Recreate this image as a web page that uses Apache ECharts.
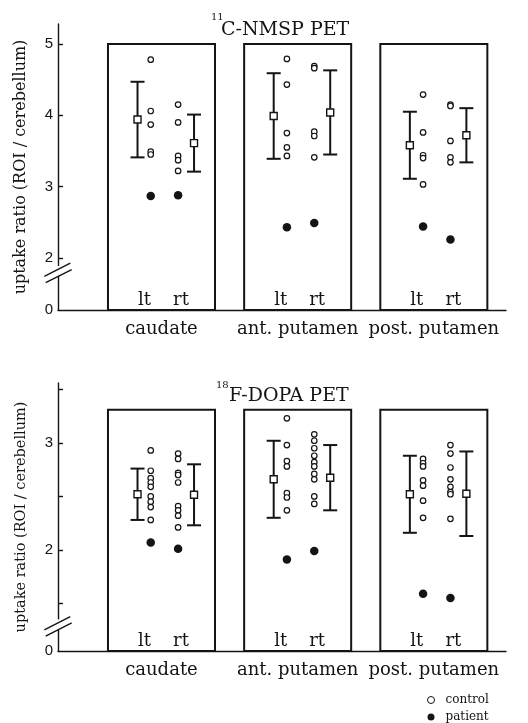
<!DOCTYPE html>
<html><head><meta charset="utf-8">
<script src="https://cdn.jsdelivr.net/npm/echarts@6/dist/echarts.min.js"></script>
<style>html,body{margin:0;padding:0;background:#fff}#c{width:528px;height:723px}</style>
</head><body><div id="c"></div>
<script>
// ---- data ----
const regions = ['caudate', 'ant. putamen', 'post. putamen'];
const sides = ['lt', 'rt'];

// 11C-NMSP PET
const nmspCtlLt = [[4.78, 4.06, 3.87, 3.49, 3.45], [4.79, 4.43, 3.75, 3.55, 3.43], [4.29, 3.76, 3.44, 3.40, 3.03]];
const nmspCtlRt = [[4.15, 3.90, 3.43, 3.37, 3.22], [4.69, 4.66, 3.77, 3.71, 3.41], [4.15, 4.13, 3.64, 3.41, 3.34]];
const nmspPatLt = [2.87, 2.43, 2.44];
const nmspPatRt = [2.88, 2.49, 2.26];
const nmspMeanLt = [3.94, 3.99, 3.58];
const nmspSdLt = [0.53, 0.60, 0.47];
const nmspMeanRt = [3.61, 4.04, 3.72];
const nmspSdRt = [0.40, 0.59, 0.38];
const nmspTicks = [2, 3, 4, 5];
const nmspLabels = [2, 3, 4, 5];

// 18F-DOPA PET
const dopaCtlLt = [[2.93, 2.74, 2.67, 2.63, 2.59, 2.50, 2.45, 2.40, 2.28], [3.23, 2.98, 2.83, 2.78, 2.53, 2.49, 2.37], [2.85, 2.81, 2.78, 2.65, 2.60, 2.46, 2.30]];
const dopaCtlRt = [[2.90, 2.85, 2.72, 2.70, 2.63, 2.41, 2.37, 2.32, 2.21], [3.08, 3.02, 2.95, 2.88, 2.82, 2.78, 2.71, 2.66, 2.50, 2.43], [2.98, 2.90, 2.77, 2.66, 2.59, 2.54, 2.52, 2.29]];
const dopaPatLt = [2.07, 1.91, 1.59];
const dopaPatRt = [2.01, 1.99, 1.55];
const dopaMeanLt = [2.52, 2.66, 2.52];
const dopaSdLt = [0.24, 0.36, 0.36];
const dopaMeanRt = [2.515, 2.675, 2.525];
const dopaSdRt = [0.285, 0.305, 0.395];
const dopaTicks = [1.5, 2, 2.5, 3, 3.5];
const dopaLabels = [2, 3];

// ---- layout constants ----
const X_MIN = -0.76, X_MAX = 2.53;
const BOX_HALF = 0.393;
const OFF_BAR_LT = -0.176, OFF_DOT_LT = -0.079, OFF_DOT_RT = 0.122, OFF_BAR_RT = 0.239;
const OFF_TXT_LT = -0.125, OFF_TXT_RT = 0.143;
const INK = '#141414';
const SERIF = 'DejaVu Serif';

const panels = [
  { top: 24, height: 286, yMin: 1.27, yMax: 5.28, boxTop: 5.0, brk: 1.79, nameSize: 16,
    ticks: nmspTicks, labels: nmspLabels,
    ctlLt: nmspCtlLt, ctlRt: nmspCtlRt, patLt: nmspPatLt, patRt: nmspPatRt,
    meanLt: nmspMeanLt, sdLt: nmspSdLt, meanRt: nmspMeanRt, sdRt: nmspSdRt },
  { top: 383, height: 268, yMin: 1.055, yMax: 3.56, boxTop: 3.31, brk: 1.285, nameSize: 14.5,
    ticks: dopaTicks, labels: dopaLabels,
    ctlLt: dopaCtlLt, ctlRt: dopaCtlRt, patLt: dopaPatLt, patRt: dopaPatRt,
    meanLt: dopaMeanLt, sdLt: dopaSdLt, meanRt: dopaMeanRt, sdRt: dopaSdRt }
];

const grid = [], xAxis = [], yAxis = [], series = [];

panels.forEach((p, g) => {
  grid.push({ left: 58, top: p.top, width: 448, height: p.height });
  xAxis.push({
    type: 'value', gridIndex: g, min: X_MIN, max: X_MAX,
    axisLine: { show: true, onZero: false, lineStyle: { color: INK, width: 1.4 } },
    axisTick: { show: false }, splitLine: { show: false },
    axisLabel: {
      customValues: [0, 1, 2], margin: 10,
      formatter: v => regions[Math.round(v)],
      fontFamily: SERIF, fontSize: 18, color: INK
    }
  });
  yAxis.push({
    type: 'value', gridIndex: g, min: p.yMin, max: p.yMax,
    name: 'uptake ratio (ROI / cerebellum)', nameLocation: 'middle', nameGap: 29,
    nameTextStyle: { fontFamily: SERIF, fontSize: p.nameSize, color: INK },
    axisLine: { show: true, onZero: false, lineStyle: { color: INK, width: 1.4 } },
    axisTick: { show: true, inside: true, length: 5, customValues: p.ticks, lineStyle: { color: INK, width: 1.4 } },
    splitLine: { show: false },
    axisLabel: {
      customValues: [p.yMin].concat(p.labels), margin: 5,
      formatter: v => (v === p.yMin ? '0' : String(v)),
      fontFamily: 'Liberation Sans', fontSize: 15, color: INK
    }
  });

  // region boxes
  series.push({
    type: 'custom', xAxisIndex: g, yAxisIndex: g, silent: true, z: 2,
    data: regions.map((r, i) => [i, p.boxTop]),
    renderItem: (params, api) => {
      const c = api.value(0);
      const a = api.coord([c - BOX_HALF, api.value(1)]);
      const b = api.coord([c + BOX_HALF, p.yMin]);
      return { type: 'rect', shape: { x: a[0], y: a[1], width: b[0] - a[0], height: b[1] - a[1] },
        style: { fill: 'none', stroke: INK, lineWidth: 2 } };
    }
  });

  // lt / rt labels
  const sideData = [];
  regions.forEach((r, i) => { sideData.push([i + OFF_TXT_LT, p.yMin]); sideData.push([i + OFF_TXT_RT, p.yMin]); });
  series.push({
    type: 'custom', xAxisIndex: g, yAxisIndex: g, silent: true, z: 3,
    data: sideData,
    renderItem: (params, api) => {
      const q = api.coord([api.value(0), api.value(1)]);
      return { type: 'text', style: { text: sides[params.dataIndex % 2], x: q[0], y: q[1] - 1,
        align: 'center', verticalAlign: 'bottom', font: '18px "' + SERIF + '"', fill: INK } };
    }
  });

  // mean +/- SD bars
  const barData = [];
  regions.forEach((r, i) => {
    barData.push([i + OFF_BAR_LT, p.meanLt[i], p.sdLt[i]]);
    barData.push([i + OFF_BAR_RT, p.meanRt[i], p.sdRt[i]]);
  });
  series.push({
    type: 'custom', xAxisIndex: g, yAxisIndex: g, silent: true, z: 4,
    data: barData,
    renderItem: (params, api) => {
      const x = api.value(0), m = api.value(1), s = api.value(2);
      const hi = api.coord([x, m + s]), lo = api.coord([x, m - s]), mid = api.coord([x, m]);
      const ls = { stroke: INK, lineWidth: 2 };
      return { type: 'group', children: [
        { type: 'line', shape: { x1: hi[0], y1: hi[1], x2: lo[0], y2: lo[1] }, style: ls },
        { type: 'line', shape: { x1: hi[0] - 7, y1: hi[1], x2: hi[0] + 7, y2: hi[1] }, style: ls },
        { type: 'line', shape: { x1: lo[0] - 7, y1: lo[1], x2: lo[0] + 7, y2: lo[1] }, style: ls },
        { type: 'rect', shape: { x: mid[0] - 3.5, y: mid[1] - 3.5, width: 7, height: 7 },
          style: { fill: '#fff', stroke: INK, lineWidth: 1.4 } }
      ] };
    }
  });

  // controls
  const ctl = [];
  regions.forEach((r, i) => {
    p.ctlLt[i].forEach(v => ctl.push([i + OFF_DOT_LT, v]));
    p.ctlRt[i].forEach(v => ctl.push([i + OFF_DOT_RT, v]));
  });
  series.push({
    name: 'control', type: 'scatter', xAxisIndex: g, yAxisIndex: g, silent: true, z: 5,
    symbol: 'circle', symbolSize: 5.5,
    itemStyle: { color: '#fff', borderColor: INK, borderWidth: 1.2, opacity: 1 },
    data: ctl
  });

  // patients
  const pat = [];
  regions.forEach((r, i) => {
    pat.push([i + OFF_DOT_LT, p.patLt[i]]);
    pat.push([i + OFF_DOT_RT, p.patRt[i]]);
  });
  series.push({
    name: 'patient', type: 'scatter', xAxisIndex: g, yAxisIndex: g, silent: true, z: 5,
    symbol: 'circle', symbolSize: 8.5,
    itemStyle: { color: INK, opacity: 1 },
    data: pat
  });

  // axis break marks
  series.push({
    type: 'custom', xAxisIndex: g, yAxisIndex: g, silent: true, z: 6,
    data: [[X_MIN, p.brk]],
    renderItem: (params, api) => {
      const q = api.coord([api.value(0), api.value(1)]);
      const x = q[0], y = q[1];
      const ls = { stroke: INK, lineWidth: 1.4 };
      return { type: 'group', children: [
        { type: 'rect', shape: { x: x - 3, y: y - 7, width: 6, height: 10 }, style: { fill: '#fff' } },
        { type: 'line', shape: { x1: x - 13.7, y1: y + 3.4, x2: x + 12.3, y2: y - 9.8 }, style: ls },
        { type: 'line', shape: { x1: x - 12.3, y1: y + 9.8, x2: x + 13.7, y2: y - 3.4 }, style: ls }
      ] };
    }
  });
});

const chart = echarts.init(document.getElementById('c'), null, { renderer: 'canvas' });
chart.setOption({
  backgroundColor: '#fff',
  animation: false,
  title: [
    { text: '11', left: 211, top: 12, padding: 0, textStyle: { fontFamily: SERIF, fontSize: 10, fontWeight: 'normal', color: INK } },
    { text: 'C-NMSP PET', left: 221, top: 21, padding: 0, textStyle: { fontFamily: SERIF, fontSize: 19, fontWeight: 'normal', color: INK } },
    { text: '18', left: 216, top: 380, padding: 0, textStyle: { fontFamily: SERIF, fontSize: 10, fontWeight: 'normal', color: INK } },
    { text: 'F-DOPA PET', left: 229, top: 387, padding: 0, textStyle: { fontFamily: SERIF, fontSize: 19, fontWeight: 'normal', color: INK } }
  ],
  legend: {
    orient: 'vertical', left: 427, top: 694, padding: 0,
    itemWidth: 7, itemHeight: 7, itemGap: 5,
    selectedMode: false,
    textStyle: { fontFamily: SERIF, fontSize: 12, color: INK, padding: [0, 0, 0, 6] },
    data: [
      { name: 'control', icon: 'circle', itemStyle: { color: '#fff', borderColor: INK, borderWidth: 1 } },
      { name: 'patient', icon: 'circle', itemStyle: { color: INK, borderWidth: 0 } }
    ]
  },
  grid: grid, xAxis: xAxis, yAxis: yAxis, series: series
});
</script></body></html>
